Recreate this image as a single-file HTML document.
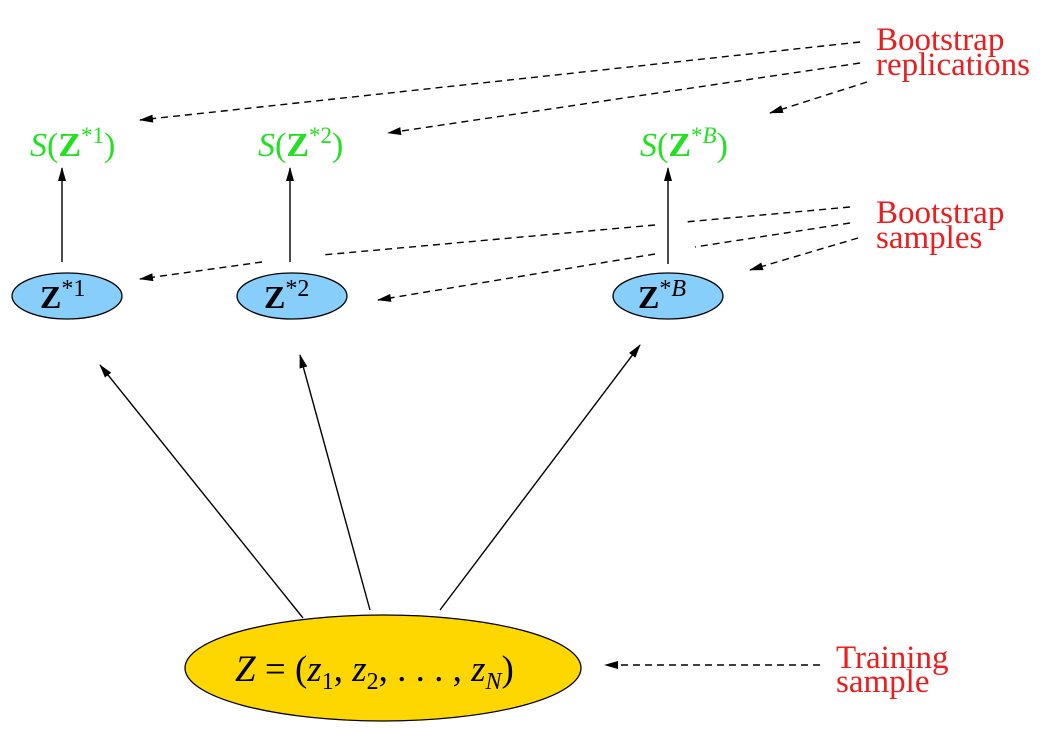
<!DOCTYPE html>
<html><head><meta charset="utf-8"><style>
html,body{margin:0;padding:0;background:#fff;width:1060px;height:750px;overflow:hidden}
svg{display:block}
.g{fill:#22e022;font-family:"Liberation Serif",serif;font-size:34px}
.r{fill:#ee1c1c;font-family:"Liberation Serif",serif;font-size:33px}
.k{fill:#000;font-family:"Liberation Serif",serif}
</style></head><body>
<svg width="1060" height="750" viewBox="0 0 1060 750">
<defs>
<marker id="a" markerWidth="14" markerHeight="8" refX="13" refY="4" orient="auto" markerUnits="userSpaceOnUse"><path d="M0,0 L14,4 L0,8 z" fill="#000"/></marker>
</defs>
<g stroke="#000" stroke-width="1.4" fill="none" stroke-dasharray="7,5">
<line x1="860" y1="42" x2="140" y2="120" marker-end="url(#a)"/>
<line x1="860" y1="63" x2="388" y2="133" marker-end="url(#a)"/>
<line x1="867" y1="82" x2="770" y2="113" marker-end="url(#a)"/>
<line x1="850" y1="207" x2="685" y2="222"/>
<line x1="655" y1="225" x2="322" y2="255"/>
<line x1="262" y1="262" x2="140" y2="279" marker-end="url(#a)"/>
<line x1="850" y1="223" x2="695" y2="247"/>
<line x1="655" y1="254" x2="378" y2="300" marker-end="url(#a)"/>
<line x1="858" y1="238" x2="750" y2="270" marker-end="url(#a)"/>
<line x1="820" y1="665" x2="605" y2="665" marker-end="url(#a)"/>
</g>
<g stroke="#000" stroke-width="1.4" fill="none">
<line x1="62" y1="262" x2="62" y2="168" marker-end="url(#a)"/>
<line x1="290" y1="262" x2="290" y2="168" marker-end="url(#a)"/>
<line x1="668" y1="264" x2="668" y2="168" marker-end="url(#a)"/>
<line x1="303" y1="618" x2="100" y2="365" marker-end="url(#a)"/>
<line x1="370" y1="610" x2="300" y2="355" marker-end="url(#a)"/>
<line x1="440" y1="610" x2="640" y2="345" marker-end="url(#a)"/>
</g>
<ellipse cx="67" cy="296" rx="55" ry="23" fill="#87cefa" stroke="#000" stroke-width="1.3"/>
<ellipse cx="292" cy="296" rx="55" ry="23" fill="#87cefa" stroke="#000" stroke-width="1.3"/>
<ellipse cx="668" cy="296" rx="55" ry="23" fill="#87cefa" stroke="#000" stroke-width="1.3"/>
<ellipse cx="383" cy="668" rx="198" ry="53" fill="#ffd700" stroke="#000" stroke-width="1.3"/>
<text x="40" y="308" class="k" font-size="32" font-weight="bold">Z<tspan font-weight="normal" font-size="24" dy="-12">*1</tspan></text>
<text x="264" y="308" class="k" font-size="32" font-weight="bold">Z<tspan font-weight="normal" font-size="24" dy="-12">*2</tspan></text>
<text x="638" y="308" class="k" font-size="32" font-weight="bold">Z<tspan font-weight="normal" font-size="24" dy="-12">*<tspan font-style="italic">B</tspan></tspan></text>
<text x="235" y="681" class="k" font-size="37"><tspan font-style="italic">Z</tspan> = (<tspan font-style="italic">z</tspan><tspan font-size="24" dy="8">1</tspan><tspan dy="-8">, </tspan><tspan font-style="italic">z</tspan><tspan font-size="24" dy="8">2</tspan><tspan dy="-8">, . . . , </tspan><tspan font-style="italic">z</tspan><tspan font-size="24" font-style="italic" dy="8">N</tspan><tspan dy="-8">)</tspan></text>
<text x="30" y="156" class="g"><tspan font-style="italic">S</tspan>(<tspan font-weight="bold">Z</tspan><tspan font-size="23" dy="-13">*1</tspan><tspan dy="13">)</tspan></text>
<text x="258" y="156" class="g"><tspan font-style="italic">S</tspan>(<tspan font-weight="bold">Z</tspan><tspan font-size="23" dy="-13">*2</tspan><tspan dy="13">)</tspan></text>
<text x="640" y="156" class="g"><tspan font-style="italic">S</tspan>(<tspan font-weight="bold">Z</tspan><tspan font-size="23" dy="-13">*<tspan font-style="italic">B</tspan></tspan><tspan dy="13">)</tspan></text>
<text x="876" y="50" class="r">Bootstrap</text>
<text x="876" y="75" class="r">replications</text>
<text x="876" y="223" class="r">Bootstrap</text>
<text x="876" y="248" class="r">samples</text>
<text x="836" y="668" class="r">Training</text>
<text x="836" y="692" class="r">sample</text>
</svg>
</body></html>
